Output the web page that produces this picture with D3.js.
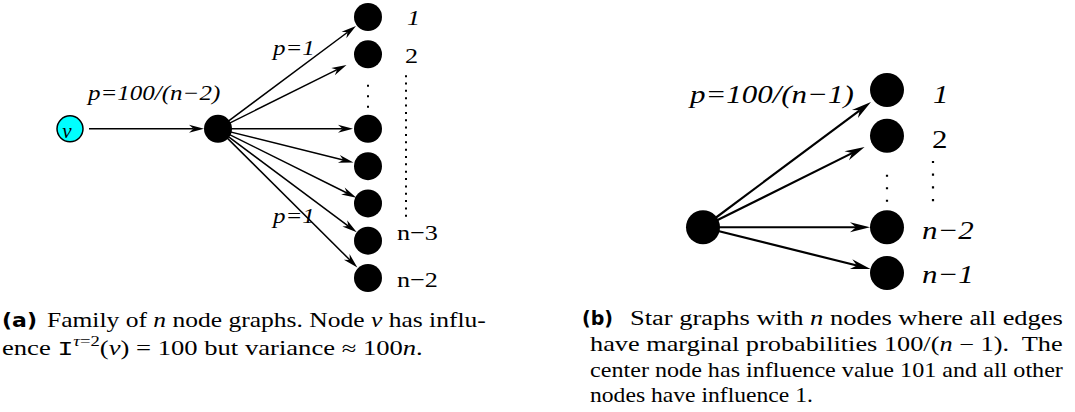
<!DOCTYPE html>
<html>
<head>
<meta charset="utf-8">
<script src="https://cdn.jsdelivr.net/npm/d3@7"></script>
<style>
    body { margin: 0; background: #fff; }
    svg { display: block; }
    .lbl { font-family: "Liberation Serif", "Times New Roman", serif; font-style: italic; }
    .cap { font-family: "Liberation Serif", "Times New Roman", serif; white-space: pre; }
    .tag { font-family: "DejaVu Sans", sans-serif; font-weight: bold; }
</style>
</head>
<body>
<svg id="fig" width="1075" height="412"></svg>
<script>
    // ---- panel (a): v -> hub -> leaves (slot 2 is where the dots go)
    var aLeafSlots = [0, 1, 3, 4, 5, 6, 7];
    var aLeafTrim = [15, 24, 15, 15, 13, 14, 15];
    var aNames = ["1", "2", "n\u22123", "n\u22122"];
    var aNameSlots = [0, 1, 6, 7];
    var aNameItalic = [true, false, false, false];
    var aEdgeLabels = ["p=100/(n\u22122)", "p=1", "p=1"];
    var aSource = "v";

    // ---- panel (b): star graph
    var bLeafSlots = [0, 1, 3, 4];
    var bLeafTrim = [20, 25, 17, 17];
    var bNames = ["1", "2", "n\u22122", "n\u22121"];
    var bNameItalic = [true, false, true, true];
    var bEdgeLabel = "p=100/(n\u22121)";

    // ---- captions, [text, style]  i = italic, m = typewriter, s = superscript
    var capA = [
        [["Family of ", ""], ["n", "i"], [" node graphs. Node ", ""], ["v", "i"], [" has influ-", ""]],
        [["ence ", ""], ["I", "m"], ["\u03c4", "si"], ["=2", "s"], ["(", ""], ["v", "i"],
            [") = 100 but variance \u2248 100", ""], ["n", "i"], [".", ""]]
    ];
    var capB = [
        [["Star graphs with ", ""], ["n", "i"], [" nodes where all edges", ""]],
        [["have marginal probabilities 100/(", ""], ["n", "i"], [" \u2212 1).  The", ""]],
        [["center node has influence value 101 and all other", ""]],
        [["nodes have influence 1.", ""]]
    ];

    var svg = d3.select("#fig");
    var stretch = 1.19;   // the xfig labels are a bit wider than plain Times

    var ya = d3.scaleLinear().domain([0, 7]).range([17, 278]);
    var xa = d3.scaleOrdinal().domain(["src", "hub", "leaf"]).range([70, 218, 368]);
    var yb = d3.scaleLinear().domain([0, 4]).range([90, 273]);
    var xb = d3.scaleOrdinal().domain(["hub", "leaf"]).range([703, 887]);

    function arrow(g, x0, y0, x1, y1, startTrim, trim, len, half, inset, sw) {
        var dx = x1 - x0, dy = y1 - y0, d = Math.hypot(dx, dy), ux = dx / d, uy = dy / d;
        var sx = x0 + ux * startTrim, sy = y0 + uy * startTrim;
        var tx = x1 - ux * trim, ty = y1 - uy * trim;
        var bx = tx - ux * len, by = ty - uy * len;
        var ix = tx - ux * (len - inset), iy = ty - uy * (len - inset);
        g.append("line")
            .attr("x1", sx).attr("y1", sy).attr("x2", ix).attr("y2", iy)
            .attr("stroke", "#000").attr("stroke-width", sw);
        g.append("path")
            .attr("d", "M" + tx + "," + ty +
                "L" + (bx - uy * half) + "," + (by + ux * half) +
                "L" + ix + "," + iy +
                "L" + (bx + uy * half) + "," + (by - ux * half) + "Z")
            .attr("fill", "#000");
    }

    function label(x, y, size, txt, italic, anchor) {
        svg.append("g")
            .attr("transform", "translate(" + x + "," + y + ") scale(" + stretch + ",1)")
            .append("text")
            .attr("class", "lbl")
            .style("font-size", size + "px")
            .style("font-style", italic ? "italic" : "normal")
            .attr("text-anchor", anchor || "start")
            .text(txt);
    }

    function fitLine(x0, x1, y, cls, parts, size) {
        var g = svg.append("g");
        var t = g.append("text").attr("class", cls).style("font-size", size + "px");
        var up = false;
        parts.forEach(function (p) {
            var s = t.append("tspan").text(p[0]);
            var st = p[1];
            if (st.indexOf("i") >= 0) s.style("font-style", "italic");
            if (st.indexOf("m") >= 0) s.style("font-family", "'Liberation Mono', monospace");
            if (st.indexOf("s") >= 0) {
                s.style("font-size", "14px");
                if (!up) { s.attr("dy", -9); up = true; }
            } else if (up) {
                s.attr("dy", 9); up = false;
            }
        });
        var w = t.node().getComputedTextLength();
        g.attr("transform", "translate(" + x0 + "," + y + ") scale(" + ((x1 - x0) / w) + ",1)");
    }

    // ================= panel (a)
    var ga = svg.append("g");
    var hy = ya(3);
    arrow(ga, xa("src"), hy, xa("hub"), hy, 19, 14, 15, 4, 4.5, 1.5);
    aLeafSlots.forEach(function (s, i) {
        arrow(ga, xa("hub"), hy, xa("leaf"), ya(s), 0, aLeafTrim[i], 15, 4, 4.5, 1.5);
    });

    ga.append("circle").attr("cx", xa("src")).attr("cy", hy).attr("r", 13)
        .attr("fill", "#00ffff").attr("stroke", "#000").attr("stroke-width", 1.5);
    ga.append("circle").attr("cx", xa("hub")).attr("cy", hy).attr("r", 14).attr("fill", "#000");
    ga.selectAll("circle.leaf").data(aLeafSlots).enter().append("circle")
        .attr("class", "leaf")
        .attr("cx", xa("leaf")).attr("cy", function (d) { return ya(d); })
        .attr("r", 14).attr("fill", "#000");

    svg.append("text").attr("class", "lbl").style("font-size", "21px")
        .attr("x", xa("src") - 3).attr("y", hy + 9).attr("text-anchor", "middle").text(aSource);

    // dots
    ga.append("line").attr("x1", xa("leaf")).attr("x2", xa("leaf"))
        .attr("y1", ya(1.82)).attr("y2", ya(2.5))
        .attr("stroke", "#000").attr("stroke-width", 2).attr("stroke-dasharray", "2,8.5");
    ga.append("line").attr("x1", 406).attr("x2", 406)
        .attr("y1", ya(1.56)).attr("y2", ya(5.5))
        .attr("stroke", "#000").attr("stroke-width", 2).attr("stroke-dasharray", "2,5.35");

    label(88, 100, 21, aEdgeLabels[0], true);
    label(273, 55, 21, aEdgeLabels[1], true);
    label(273, 223, 21, aEdgeLabels[2], true);

    var aNameDx = [39, 37, 29, 29], aNameDy = [8, 9, -1, 9];
    aNames.forEach(function (n, i) {
        label(xa("leaf") + aNameDx[i], ya(aNameSlots[i]) + aNameDy[i], 22, n, aNameItalic[i]);
    });

    // ================= panel (b)
    var gb = svg.append("g");
    var cy = yb(3);
    bLeafSlots.forEach(function (s, i) {
        arrow(gb, xb("hub"), cy, xb("leaf"), yb(s), 0, bLeafTrim[i], 20, 5, 6, 2.2);
    });
    gb.append("circle").attr("cx", xb("hub")).attr("cy", cy).attr("r", 17).attr("fill", "#000");
    gb.selectAll("circle.leaf").data(bLeafSlots).enter().append("circle")
        .attr("class", "leaf")
        .attr("cx", xb("leaf")).attr("cy", function (d) { return yb(d); })
        .attr("r", 17).attr("fill", "#000");

    gb.append("line").attr("x1", xb("leaf")).attr("x2", xb("leaf"))
        .attr("y1", yb(1.85)).attr("y2", yb(2.45))
        .attr("stroke", "#000").attr("stroke-width", 2.2).attr("stroke-dasharray", "2.2,10.3");
    gb.append("line").attr("x1", 933).attr("x2", 933)
        .attr("y1", yb(1.55)).attr("y2", yb(2.45))
        .attr("stroke", "#000").attr("stroke-width", 2.2).attr("stroke-dasharray", "2.2,10.5");

    label(690, 103, 26, bEdgeLabel, true);
    var bNameDx = [46, 45, 35, 35], bNameDy = [13, 12, 12, 10];
    bNames.forEach(function (n, i) {
        label(xb("leaf") + bNameDx[i], yb(bLeafSlots[i]) + bNameDy[i], 26, n, bNameItalic[i]);
    });

    // ================= captions
    fitLine(2, 37, 327, "tag", [["(a)", ""]], 19);
    fitLine(47, 486, 327, "cap", capA[0], 20);
    fitLine(2, 423, 355, "cap", capA[1], 20);

    fitLine(582, 613, 325, "tag", [["(b)", ""]], 19);
    fitLine(630, 1063, 325, "cap", capB[0], 20);
    fitLine(590, 1063, 351, "cap", capB[1], 20);
    fitLine(590, 1063, 377, "cap", capB[2], 20);
    fitLine(590, 813, 402, "cap", capB[3], 20);
</script>
</body>
</html>
